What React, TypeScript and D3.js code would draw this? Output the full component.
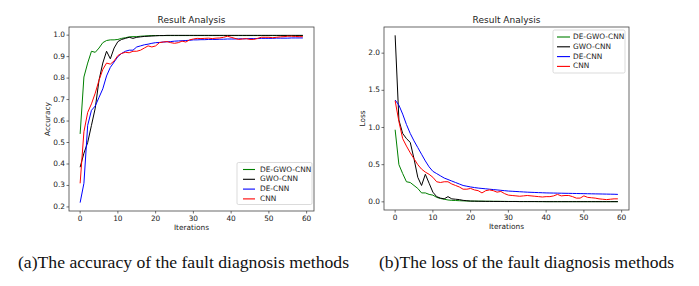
import React from "react";
import * as d3 from "d3";

const iterations = d3.range(0, 60);
const seriesNames = ["DE-GWO-CNN", "GWO-CNN", "DE-CNN", "CNN"];
const seriesColors = ["#008000", "#000000", "#0000ff", "#ff0000"];

const accDeGwoCnn = [0.54, 0.805, 0.87, 0.925, 0.92, 0.94, 0.965, 0.975, 0.978, 0.978, 0.98, 0.985, 0.988, 0.992, 0.993, 0.993, 0.995, 0.996, 0.997, 0.998,
  0.998, 0.998, 0.998, 0.998, 0.998, 0.998, 0.998, 0.998, 0.998, 0.998, 0.998, 0.998, 0.998, 0.998, 0.998, 0.998, 0.998, 0.998, 0.998, 0.998,
  0.998, 0.998, 0.998, 0.998, 0.998, 0.998, 0.998, 0.998, 0.998, 0.998, 0.998, 0.998, 0.998, 0.998, 0.998, 0.998, 0.998, 0.998, 0.998, 0.998];
const accGwoCnn = [0.385, 0.45, 0.5, 0.58, 0.66, 0.79, 0.87, 0.925, 0.89, 0.94, 0.97, 0.98, 0.985, 0.99, 0.985, 0.99, 0.992, 0.994, 0.995, 0.996,
  0.997, 0.998, 0.998, 0.999, 0.999, 0.999, 0.999, 0.999, 0.999, 0.999, 0.999, 0.999, 0.999, 0.999, 0.999, 0.999, 0.999, 0.999, 0.999, 0.999,
  0.999, 0.999, 0.999, 0.999, 0.999, 0.999, 0.999, 0.999, 0.999, 0.999, 0.999, 0.999, 0.999, 0.999, 0.999, 0.999, 0.999, 0.999, 0.999, 0.999];
const accDeCnn = [0.22, 0.31, 0.58, 0.65, 0.67, 0.71, 0.75, 0.81, 0.85, 0.875, 0.9, 0.915, 0.925, 0.93, 0.93, 0.945, 0.95, 0.955, 0.958, 0.962,
  0.965, 0.966, 0.968, 0.969, 0.97, 0.972, 0.973, 0.974, 0.975, 0.976, 0.978, 0.978, 0.979, 0.979, 0.98, 0.98, 0.98, 0.981, 0.981, 0.982,
  0.982, 0.982, 0.983, 0.983, 0.983, 0.984, 0.984, 0.984, 0.985, 0.985, 0.985, 0.985, 0.986, 0.986, 0.986, 0.986, 0.987, 0.987, 0.987, 0.987];
const accCnn = [0.31, 0.55, 0.64, 0.68, 0.73, 0.79, 0.84, 0.87, 0.865, 0.88, 0.905, 0.915, 0.92, 0.918, 0.925, 0.925, 0.93, 0.94, 0.95, 0.945,
  0.95, 0.965, 0.968, 0.97, 0.965, 0.962, 0.965, 0.972, 0.968, 0.978, 0.982, 0.985, 0.984, 0.985, 0.986, 0.984, 0.986, 0.987, 0.99, 0.995,
  0.99, 0.985, 0.98, 0.982, 0.984, 0.98, 0.98, 0.985, 0.99, 0.99, 0.99, 0.988, 0.99, 0.992, 0.993, 0.995, 0.995, 0.994, 0.993, 0.993];

const lossDeGwoCnn = [0.97, 0.5, 0.38, 0.27, 0.26, 0.22, 0.18, 0.12, 0.12, 0.1, 0.09, 0.06, 0.045, 0.035, 0.025, 0.02, 0.018, 0.015, 0.013, 0.011,
  0.01, 0.01, 0.009, 0.009, 0.008, 0.008, 0.007, 0.007, 0.006, 0.006, 0.005, 0.005, 0.005, 0.004, 0.004, 0.004, 0.004, 0.004, 0.003, 0.003,
  0.003, 0.003, 0.003, 0.003, 0.003, 0.003, 0.003, 0.003, 0.003, 0.003, 0.003, 0.003, 0.003, 0.003, 0.003, 0.003, 0.003, 0.003, 0.003, 0.003];
const lossGwoCnn = [2.24, 1.1, 0.92, 0.85, 0.8, 0.58, 0.33, 0.22, 0.37, 0.25, 0.13, 0.07, 0.05, 0.04, 0.07, 0.04, 0.035, 0.03, 0.02, 0.015,
  0.01, 0.009, 0.008, 0.007, 0.006, 0.006, 0.005, 0.005, 0.005, 0.004, 0.004, 0.004, 0.004, 0.003, 0.003, 0.003, 0.003, 0.003, 0.003, 0.003,
  0.002, 0.002, 0.002, 0.002, 0.002, 0.002, 0.002, 0.002, 0.002, 0.002, 0.002, 0.002, 0.002, 0.002, 0.002, 0.002, 0.002, 0.002, 0.002, 0.002];
const lossDeCnn = [1.37, 1.3, 1.18, 1.04, 0.92, 0.82, 0.73, 0.64, 0.55, 0.47, 0.41, 0.38, 0.35, 0.32, 0.3, 0.28, 0.26, 0.24, 0.22, 0.21,
  0.2, 0.192, 0.185, 0.18, 0.175, 0.17, 0.165, 0.16, 0.155, 0.15, 0.145, 0.142, 0.139, 0.136, 0.133, 0.13, 0.128, 0.126, 0.124, 0.122,
  0.12, 0.119, 0.118, 0.117, 0.116, 0.115, 0.114, 0.113, 0.112, 0.111, 0.11, 0.109, 0.108, 0.107, 0.106, 0.105, 0.104, 0.103, 0.102, 0.1];
const lossCnn = [1.36, 1.08, 0.85, 0.75, 0.66, 0.58, 0.5, 0.44, 0.4, 0.37, 0.33, 0.27, 0.26, 0.27, 0.27, 0.24, 0.22, 0.2, 0.17, 0.17,
  0.18, 0.16, 0.15, 0.12, 0.15, 0.16, 0.15, 0.13, 0.14, 0.11, 0.09, 0.085, 0.08, 0.075, 0.08, 0.085, 0.08, 0.075, 0.07, 0.065,
  0.07, 0.07, 0.08, 0.1, 0.08, 0.085, 0.085, 0.07, 0.05, 0.05, 0.08, 0.06, 0.055, 0.05, 0.04, 0.035, 0.03, 0.035, 0.04, 0.04];

const accTicks = [0.2, 0.3, 0.4, 0.5, 0.6, 0.7, 0.8, 0.9, 1.0];
const lossTicks = [0.0, 0.5, 1.0, 1.5, 2.0];
const xTicks = [0, 10, 20, 30, 40, 50, 60];
const captions = ["(a)The accuracy of the fault diagnosis methods", "(b)The loss of the fault diagnosis methods"];

const FONT = "DejaVu Sans, sans-serif";

type Legend = { x: number; y: number; w: number; h: number; l1: number; l2: number; tx: number };
type PanelProps = {
  left: number; right: number; top: number; bottom: number;
  series: number[][]; yTicks: number[]; yLabel: string; yFmt: string;
  legend: Legend;
};

function Panel({ left, right, top, bottom, series, yTicks, yLabel, yFmt, legend }: PanelProps) {
  const n = iterations.length - 1;
  const x = d3.scaleLinear().domain([-0.05 * n, n * 1.05]).range([left, right]);
  const all = series.flat();
  const mn = d3.min(all)!, mx = d3.max(all)!;
  const pad = (mx - mn) * 0.05;
  const y = d3.scaleLinear().domain([mn - pad, mx + pad]).range([bottom, top]);
  const line = d3.line<number>().x((_, i) => x(iterations[i])).y((d) => y(d));
  const fmt = d3.format(yFmt);
  const tc = "#333";
  return (
    <g>
      <text x={(left + right) / 2} y={20.5} fontSize={9} fontFamily={FONT} textAnchor="middle" dominantBaseline="middle" fill="#222">Result Analysis</text>
      {series.map((s, k) => (
        <path key={k} d={line(s)!} fill="none" stroke={seriesColors[k]} strokeWidth={1} strokeLinejoin="round" />
      ))}
      <rect x={left} y={top} width={right - left} height={bottom - top} fill="none" stroke="#444" strokeWidth={0.8} />
      {xTicks.map((t) => (
        <g key={t}>
          <line x1={x(t)} x2={x(t)} y1={bottom} y2={bottom + 2.5} stroke={tc} strokeWidth={0.7} />
          <text x={x(t)} y={bottom + 8} fontSize={7.4} fontFamily={FONT} textAnchor="middle" dominantBaseline="middle" fill="#222">{t}</text>
        </g>
      ))}
      {yTicks.map((t) => (
        <g key={t}>
          <line x1={left - 2.5} x2={left} y1={y(t)} y2={y(t)} stroke={tc} strokeWidth={0.7} />
          <text x={left - 4} y={y(t)} fontSize={7.4} fontFamily={FONT} textAnchor="end" dominantBaseline="middle" fill="#222">{fmt(t)}</text>
        </g>
      ))}
      <text x={(left + right) / 2} y={bottom + 17} fontSize={7.4} fontFamily={FONT} textAnchor="middle" dominantBaseline="middle" fill="#222">Iterations</text>
      <text transform={`translate(${left - 21},${(top + bottom) / 2}) rotate(-90)`} fontSize={7.4} fontFamily={FONT} textAnchor="middle" dominantBaseline="middle" fill="#222">{yLabel}</text>
      <rect x={legend.x} y={legend.y} width={legend.w} height={legend.h} rx={1.5} fill="white" fillOpacity={0.85} stroke="#ccc" strokeWidth={0.7} />
      {seriesNames.map((nm, k) => {
        const ly = legend.y + 7 + k * 9.8;
        return (
          <g key={nm}>
            <line x1={legend.x + legend.l1} x2={legend.x + legend.l2} y1={ly} y2={ly} stroke={seriesColors[k]} strokeWidth={1.1} />
            <text x={legend.x + legend.tx} y={ly} fontSize={7.4} fontFamily={FONT} dominantBaseline="middle" fill="#222">{nm}</text>
          </g>
        );
      })}
    </g>
  );
}

export default function App() {
  return (
    <svg width={699} height={286} style={{ position: "absolute", left: 0, top: 0, background: "white" }}>
      <rect width={699} height={286} fill="white" />
      <Panel left={69} right={314} top={27} bottom={211}
        series={[accDeGwoCnn, accGwoCnn, accDeCnn, accCnn]} yTicks={accTicks} yLabel="Accuracy" yFmt=".1f"
        legend={{ x: 237, y: 162.5, w: 75, h: 42, l1: 6, l2: 18, tx: 23 }} />
      <Panel left={384} right={629} top={27} bottom={210}
        series={[lossDeGwoCnn, lossGwoCnn, lossDeCnn, lossCnn]} yTicks={lossTicks} yLabel="Loss" yFmt=".1f"
        legend={{ x: 553, y: 30, w: 72, h: 43, l1: 4, l2: 17, tx: 20 }} />
      <text x={18} y={268} fontSize={16} fontFamily="Liberation Serif, serif" textLength={331} lengthAdjust="spacingAndGlyphs" fill="#111">{captions[0]}</text>
      <text x={379} y={268} fontSize={16} fontFamily="Liberation Serif, serif" textLength={295} lengthAdjust="spacingAndGlyphs" fill="#111">{captions[1]}</text>
    </svg>
  );
}
